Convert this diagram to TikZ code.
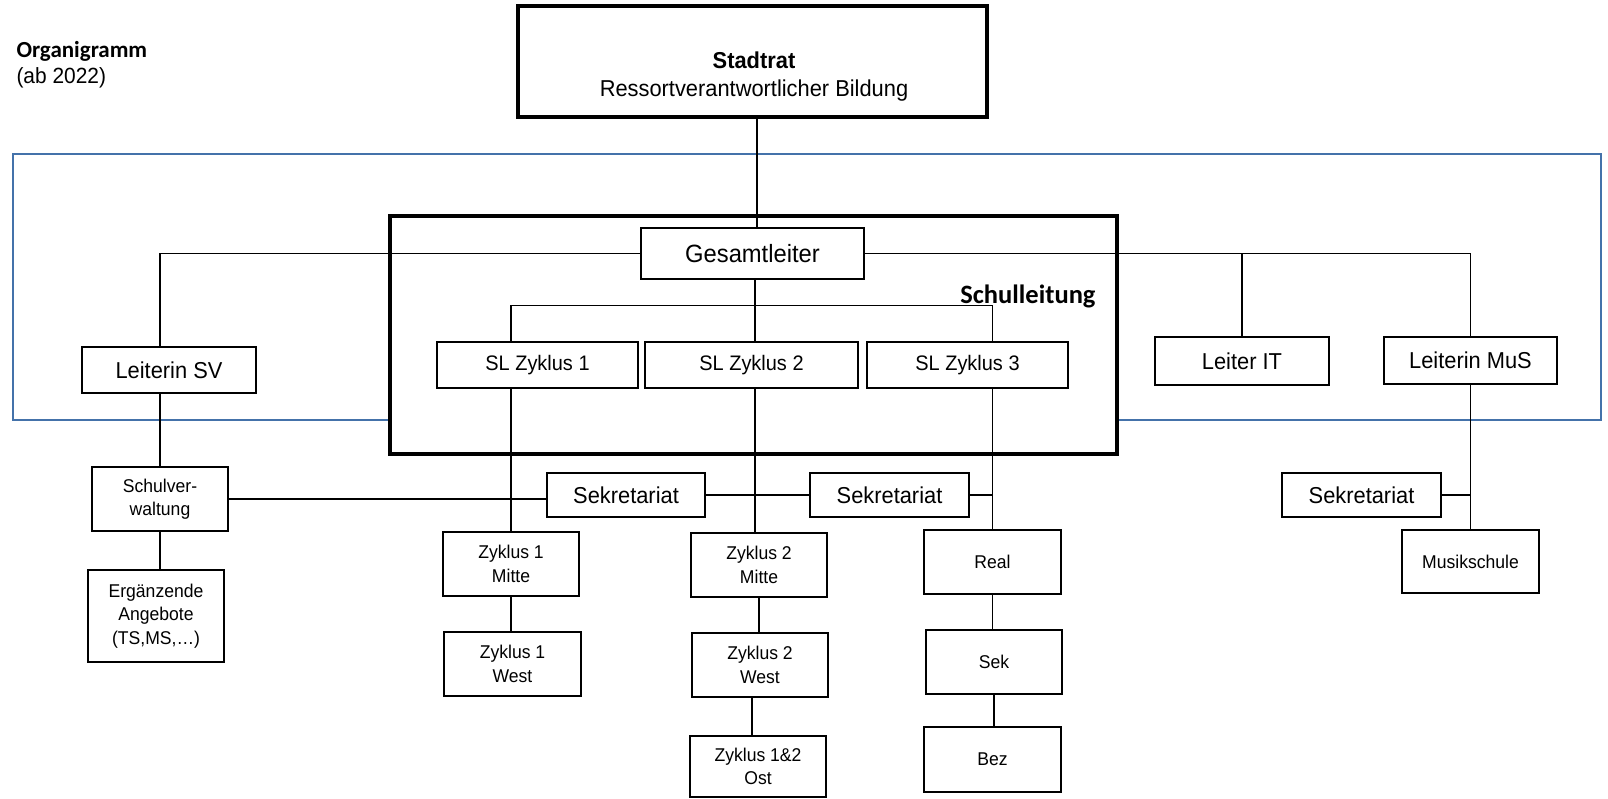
\documentclass[tikz,border=0pt]{standalone}
\usepackage{fontspec}
\setmainfont{Liberation Sans}[FakeStretch=0.95]
\newfontfamily\calibrifont{Carlito}
\definecolor{frameblue}{RGB}{68,114,170}

\begin{document}
\begin{tikzpicture}[x=1pt,y=-1pt,
  box/.style={draw, line width=2pt, inner sep=0pt, align=center, fill=white,
    font=\fontsize{23}{28}\selectfont},
  thinbox/.style={box, line width=1.2pt},
  smallbox/.style={box, font=\fontsize{18.5}{23.5}\selectfont},
  link/.style={line width=1.2pt}]
\useasboundingbox (0,0) rectangle (1608,799);

% title
\node[anchor=base west, font=\calibrifont\bfseries\fontsize{23}{28}\selectfont] (title) at (13,58) {Organigramm};
\node[anchor=base west, font=\fontsize{22}{26}\selectfont] (year) at (13,84) {(ab 2022)};

% frames
\draw[frameblue, line width=2pt] (13,154) rectangle (1601,420);
\node[draw, line width=4.5pt, fill=white, inner sep=0pt, minimum width=727, minimum height=238] (schulleitung) at (753.5,335) {};
\node[anchor=base east, font=\calibrifont\bfseries\fontsize{26.5}{30}\selectfont] (sltitle) at (1099,304) {Schulleitung};

% top
\node[box, line width=4pt, minimum width=469, minimum height=111] (stadtrat) at (752.5,61.5) {};
\node[align=center, font=\fontsize{23}{28}\selectfont] (stadtratlbl) at (754,77) {\textbf{Stadtrat}\\Ressortverantwortlicher Bildung};
\node[thinbox, font=\fontsize{25}{30}\selectfont, minimum width=223, minimum height=51] (gesamt) at (752.5,253.5) {Gesamtleiter};

% leaders
\node[box, minimum width=174, minimum height=46] (lsv) at (169,370) {Leiterin SV};
\node[box, minimum width=174, minimum height=48] (lit) at (1242,361) {Leiter IT};
\node[box, minimum width=173, minimum height=47] (lmus) at (1470.5,360.5) {Leiterin MuS};
\node[thinbox, font=\fontsize{21}{26}\selectfont, minimum width=201, minimum height=46] (sl1) at (537.5,365) {SL Zyklus 1};
\node[thinbox, font=\fontsize{21}{26}\selectfont, minimum width=213, minimum height=46] (sl2) at (751.5,365) {SL Zyklus 2};
\node[thinbox, font=\fontsize{21}{26}\selectfont, minimum width=201, minimum height=46] (sl3) at (967.5,365) {SL Zyklus 3};

% secretariats
\node[box, minimum width=158, minimum height=44] (sek1) at (626,495) {Sekretariat};
\node[box, minimum width=159, minimum height=44] (sek2) at (889.5,495) {Sekretariat};
\node[box, minimum width=159, minimum height=44] (sek3) at (1361.5,495) {Sekretariat};

% units
\node[smallbox, minimum width=136, minimum height=64] (schulverw) at (160,499) {Schulver-\\waltung};
\node[smallbox, minimum width=136, minimum height=92] (erg) at (156,616) {Ergänzende\\Angebote\\(TS,MS,…)};
\node[smallbox, minimum width=136, minimum height=64] (z1m) at (511,564) {Zyklus 1\\Mitte};
\node[smallbox, minimum width=137, minimum height=64] (z1w) at (512.5,664) {Zyklus 1\\West};
\node[smallbox, minimum width=136, minimum height=64] (z2m) at (759,565) {Zyklus 2\\Mitte};
\node[smallbox, minimum width=136, minimum height=64] (z2w) at (760,665) {Zyklus 2\\West};
\node[smallbox, minimum width=136, minimum height=61] (z12o) at (758,766.5) {Zyklus 1\&2\\Ost};
\node[smallbox, minimum width=137, minimum height=64] (real) at (992.5,562) {Real};
\node[smallbox, minimum width=136, minimum height=64] (sek) at (994,662) {Sek};
\node[smallbox, minimum width=137, minimum height=65] (bez) at (992.5,759.5) {Bez};
\node[smallbox, minimum width=137, minimum height=63] (musik) at (1470.5,561.5) {Musikschule};

% connectors
\draw[link] ([xshift=4.5pt]stadtrat.south) -- ([xshift=4.5pt]stadtrat.south |- gesamt.north);
\draw[link] (gesamt.west) -| (schulverw.north |- lsv.north);
\draw[link] (gesamt.east) -| (lmus.north);
\draw[link] (lit.north) -- (lit.north |- gesamt.east);
\draw[link] ([xshift=3.5pt]sl2.north |- gesamt.south) -- ([xshift=3.5pt]sl2.north);
\draw[link] (z1m.north |- sl1.north) -- ++(0,-36) -| (real.north |- sl3.north);
\draw[link] (z1m.north |- sl1.south) -- (z1m.north);
\draw[link] ([xshift=3.5pt]sl2.south) -- ([xshift=3.5pt]sl2.south |- z2m.north);
\draw[link] (real.north |- sl3.south) -- (real.north);
\draw[link] (schulverw.north |- lsv.south) -- (schulverw.north);
\draw[link] (schulverw.south) -- (schulverw.south |- erg.north);
\draw[link] (schulverw.east) -- (schulverw.east -| sek1.west);
\draw[link] (sek1.east) -- (sek2.west);
\draw[link] (sek2.east) -- (sek2.east -| real.north);
\draw[link] (z1m.south) -- (z1m.south |- z1w.north);
\draw[link] (z2m.south) -- (z2m.south |- z2w.north);
\draw[link] ([xshift=-8pt]z2w.south) -- ([xshift=-8pt]z2w.south |- z12o.north);
\draw[link] (real.south) -- (real.south |- sek.north);
\draw[link] (sek.south) -- (sek.south |- bez.north);
\draw[link] (lmus.south) -- (lmus.south |- musik.north);
\draw[link] (sek3.east) -- (sek3.east -| musik.north);
\end{tikzpicture}
\end{document}
